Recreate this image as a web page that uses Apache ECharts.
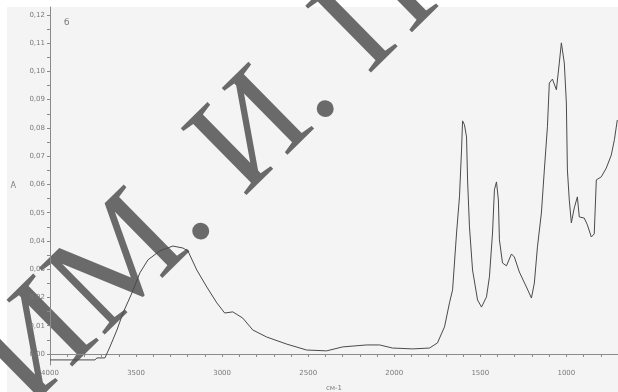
<!DOCTYPE html>
<html>
<head>
<meta charset="utf-8">
<script src="https://cdn.jsdelivr.net/npm/echarts@6/dist/echarts.min.js"></script>
<style>
html,body{margin:0;padding:0;background:#f4f4f4;}
#c{width:618px;height:392px;}
</style>
</head>
<body>
<div id="c"></div>
<script>
// Wavenumber, cm-1
const wavenumbers = [4000,3739,3727,3681,3652,3611,3576,3524,3478,3431,3362,3286,3228,3199,3147,3089,3031,2985,2938,2880,2822,2741,2625,2509,2393,2300,2160,2085,2010,1894,1795,1749,1708,1679,1661,1638,1621,1609,1603,1592,1580,1574,1563,1545,1516,1493,1464,1447,1429,1418,1406,1395,1389,1371,1348,1319,1302,1273,1232,1203,1186,1168,1145,1128,1110,1099,1081,1058,1041,1029,1012,1000,994,983,971,954,936,925,896,878,855,838,826,797,768,739,721,704];
// Absorbance
const absorbance = [-0.0021,-0.0021,-0.0014,-0.0014,0.0025,0.0085,0.0145,0.0216,0.0287,0.0333,0.0365,0.0382,0.0375,0.0365,0.0297,0.0237,0.0181,0.0145,0.0149,0.0127,0.0085,0.0060,0.0035,0.0014,0.0011,0.0025,0.0032,0.0032,0.0021,0.0018,0.0021,0.0039,0.0096,0.0181,0.0227,0.0428,0.0556,0.0722,0.0825,0.0811,0.0768,0.0616,0.0450,0.0297,0.0191,0.0166,0.0202,0.0273,0.0428,0.0581,0.0609,0.0545,0.0404,0.0322,0.0312,0.0354,0.0343,0.0290,0.0237,0.0198,0.0251,0.0379,0.0499,0.0651,0.0804,0.0959,0.0973,0.0935,0.1030,0.1101,0.1030,0.0888,0.0651,0.0545,0.0464,0.0517,0.0556,0.0485,0.0481,0.0457,0.0414,0.0425,0.0616,0.0627,0.0658,0.0704,0.0758,0.0828];
const yTickLabels = [0.00,0.01,0.02,0.03,0.04,0.05,0.06,0.07,0.08,0.09,0.10,0.11,0.12];
const xTickLabels = [1000,1500,2000,2500,3000,3500,4000];
const xAxisTitle = 'см-1';
const yAxisTitle = 'A';
const panelLetter = 'б';
const watermarkText = 'ИМ. И. П';

const yMinorTicks = [];
for (let i = 0; i < yTickLabels.length; i++) {
  yMinorTicks.push(yTickLabels[i]);
  if (i < yTickLabels.length - 1) yMinorTicks.push(+(yTickLabels[i] + 0.005).toFixed(3));
}

const chart = echarts.init(document.getElementById('c'), null, {renderer: 'canvas'});
const labelColor = '#7a7a7a';
chart.setOption({
  backgroundColor: '#f4f4f4',
  animation: false,
  grid: {left: 50, right: 0, top: 7, bottom: 27, containLabel: false, outerBoundsMode: 'none'},
  xAxis: {
    type: 'value', inverse: true, min: 700, max: 4000, interval: 100,
    name: xAxisTitle, nameLocation: 'middle', nameGap: 20,
    nameTextStyle: {color: labelColor, fontSize: 7, fontFamily: 'DejaVu Sans'},
    axisLine: {show: true, lineStyle: {color: '#8a8a8a', width: 1}},
    axisTick: {show: true, length: 3, lineStyle: {color: '#8a8a8a'}},
    axisLabel: {
      color: labelColor, fontSize: 7, fontFamily: 'DejaVu Sans', margin: 5,
      formatter: v => (xTickLabels.indexOf(v) >= 0 ? String(v) : '')
    },
    splitLine: {show: false}
  },
  yAxis: {
    type: 'value', min: -0.0039, max: 0.1228,
    name: yAxisTitle, nameLocation: 'middle', nameGap: 34, nameRotate: 0,
    nameTextStyle: {color: labelColor, fontSize: 8, fontFamily: 'DejaVu Sans'},
    axisLine: {show: true, lineStyle: {color: '#8a8a8a', width: 1}},
    axisTick: {show: true, length: 3, customValues: yMinorTicks, lineStyle: {color: '#8a8a8a'}},
    axisLabel: {
      color: labelColor, fontSize: 7, fontFamily: 'DejaVu Sans', margin: 5,
      customValues: yTickLabels,
      formatter: v => v.toFixed(2).replace('.', ',')
    },
    splitLine: {show: false}
  },
  graphic: [
    {type: 'rect', left: 0, top: 0, shape: {width: 618, height: 7}, style: {fill: '#ffffff'}, z: -1, silent: true},
    {type: 'rect', left: 0, top: 0, shape: {width: 7, height: 392}, style: {fill: '#ffffff'}, z: -1, silent: true},
    {type: 'text', left: 64, top: 18, style: {text: panelLetter, fill: '#777', font: '9px "DejaVu Sans"'}, z: 1},
    {type: 'text', x: 52, y: 434, rotation: 0.777, silent: true, z: 0,
     style: {text: watermarkText, fill: '#6a6a6a', font: '143px "Liberation Serif"', textAlign: 'left', textVerticalAlign: 'bottom'}}
  ],
  series: [{
    type: 'line', z: 3,
    data: wavenumbers.map((w, i) => [w, absorbance[i]]),
    showSymbol: false, smooth: false,
    lineStyle: {color: '#4a4a4a', width: 1},
    clip: true
  }]
});
</script>
</body>
</html>
